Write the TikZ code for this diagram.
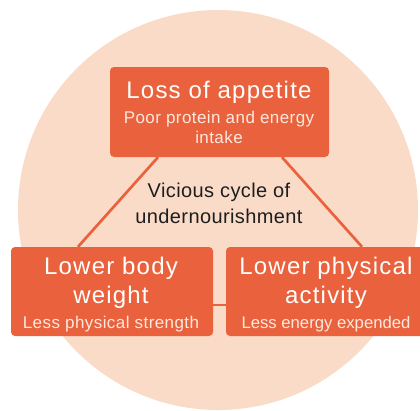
\documentclass[tikz,border=0pt]{standalone}
\usepackage{fontspec}
\setmainfont{Liberation Sans}
\definecolor{boxorange}{RGB}{234,98,61}
\definecolor{peach}{RGB}{250,219,200}
\definecolor{subwhite}{RGB}{253,232,222}
\definecolor{darktext}{RGB}{30,30,30}
\begin{document}
\begin{tikzpicture}[x=1pt,y=-1pt,
  stepbox/.style={draw=none,fill=boxorange,rounded corners=4pt,inner sep=0pt},
  conn/.style={draw=boxorange,line width=2.7pt},
  titletext/.style={anchor=base,text=white,inner sep=0pt,font=\fontsize{24}{29}\selectfont\addfontfeature{LetterSpace=5}},
  subtext/.style={anchor=base,text=subwhite,inner sep=0pt,font=\fontsize{17}{20}\selectfont\addfontfeature{LetterSpace=2.5}},
  subtextnarrow/.style={anchor=base,text=subwhite,inner sep=0pt,font=\fontsize{16.7}{20}\selectfont},
  midtext/.style={anchor=base,text=darktext,inner sep=0pt,font=\fontsize{20}{26}\selectfont\addfontfeature{LetterSpace=2}}]
\useasboundingbox (0,0) rectangle (420,410);
\clip (0,0) rectangle (420,410);
\fill[peach] (218,210) circle [radius=200pt];
% boxes
\node[stepbox,minimum width=219pt,minimum height=90pt] (top) at (219.5,112) {};
\node[stepbox,minimum width=202pt,minimum height=89pt] (left) at (112,291.5) {};
\node[stepbox,minimum width=200pt,minimum height=89pt] (right) at (326,291.5) {};
% connectors
\draw[conn] ([xshift=-61.5pt]top.south) -- ([xshift=-34pt]left.north);
\draw[conn] ([xshift=62.5pt]top.south) -- ([xshift=36pt]right.north);
\draw[conn] ([yshift=-13.5pt]left.east) -- ([yshift=-13.5pt]right.west);
% texts
\node[titletext] (t1) at (219,98) {Loss of appetite};
\node[subtext] (t2) at (219,123) {Poor protein and energy};
\node[subtext] (t3) at (219,143) {intake};
\node[midtext] (m1) at (219,197) {Vicious cycle of};
\node[midtext] (m2) at (219,223) {undernourishment};
\node[titletext] (l1) at (111,274) {Lower body};
\node[titletext] (l2) at (111,303) {weight};
\node[subtext] (l3) at (111,328) {Less physical strength};
\node[titletext] (r1) at (326,274) {Lower physical};
\node[titletext] (r2) at (326,303) {activity};
\node[subtextnarrow] (r3) at (326,328) {Less energy expended};
\end{tikzpicture}
\end{document}
